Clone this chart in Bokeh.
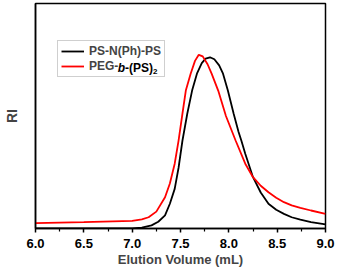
from bokeh.plotting import figure
from bokeh.models import Range1d, FixedTicker, Legend, LegendItem, Label
from bokeh.embed import file_html
from bokeh.resources import INLINE

# PS-N(Ph)-PS (black)
black_x = [6.0, 6.5, 7.0, 7.1, 7.2, 7.27, 7.34, 7.39, 7.44, 7.48, 7.52, 7.57, 7.62, 7.67,
           7.72, 7.76, 7.805, 7.85, 7.9, 7.94, 7.99, 8.05, 8.1, 8.13, 8.17, 8.25, 8.33,
           8.41, 8.49, 8.57, 8.65, 8.74, 8.85, 9.0]
black_y = [0.0, 0.0, 0.0, 0.004, 0.014, 0.03, 0.058, 0.11, 0.176, 0.27, 0.39, 0.51, 0.613, 0.688,
           0.735, 0.755, 0.761, 0.752, 0.725, 0.688, 0.613, 0.51, 0.43, 0.39, 0.332, 0.228, 0.16,
           0.11, 0.083, 0.065, 0.05, 0.039, 0.028, 0.018]

# PEG-b-(PS)2 (red)
red_x = [6.0, 6.5, 7.0, 7.1, 7.17, 7.25, 7.34, 7.39, 7.44, 7.48, 7.52, 7.555, 7.605, 7.65,
         7.689, 7.73, 7.78, 7.822, 7.89, 7.97, 8.07, 8.17, 8.25, 8.33, 8.41, 8.49, 8.57,
         8.65, 8.74, 8.85, 9.0]
red_y = [0.024, 0.028, 0.034, 0.041, 0.05, 0.075, 0.139, 0.2, 0.288, 0.391, 0.51, 0.613, 0.688, 0.745,
         0.772, 0.765, 0.73, 0.688, 0.613, 0.5, 0.391, 0.288, 0.228, 0.19, 0.161, 0.137, 0.117,
         0.103, 0.092, 0.08, 0.065]

x_ticks = [6.0, 6.5, 7.0, 7.5, 8.0, 8.5, 9.0]
x_tick_labels = ["6.0", "6.5", "7.0", "7.5", "8.0", "8.5", "9.0"]
x_minor_ticks = [6.25, 6.75, 7.25, 7.75, 8.25, 8.75]
series_names = ["PS-N(Ph)-PS", "PEG-"]
FONT = "Liberation Sans"

p = figure(width=336, height=271, output_backend="svg", toolbar_location=None,
           x_range=Range1d(6.0, 9.0), y_range=Range1d(0.0, 1.0),
           min_border_left=33, min_border_right=11, min_border_top=3, min_border_bottom=43)
p.grid.visible = False
p.outline_line_color = "black"
p.outline_line_width = 1.5
p.background_fill_color = "white"
p.border_fill_color = "white"

r1 = p.line(black_x, black_y, line_color="black", line_width=1.8)
r2 = p.line(red_x, red_y, line_color="#ff0000", line_width=1.8)

xa = p.xaxis[0]
xa.ticker = FixedTicker(ticks=x_ticks, minor_ticks=x_minor_ticks)
xa.major_label_overrides = {t: l for t, l in zip(x_ticks, x_tick_labels)}
xa.axis_line_width = 1.5
xa.major_tick_in = 0
xa.major_tick_out = 4
xa.minor_tick_in = 0
xa.minor_tick_out = 3
xa.major_tick_line_width = 1.5
xa.minor_tick_line_width = 1.2
xa.major_label_standoff = 6
xa.major_label_text_font = FONT
xa.major_label_text_font_style = "bold"
xa.major_label_text_font_size = "13px"
xa.major_label_text_color = "black"
xa.axis_label = "Elution Volume (mL)"
xa.axis_label_text_font = FONT
xa.axis_label_text_font_style = "bold"
xa.axis_label_text_font_size = "13px"
xa.axis_label_standoff = 1

ya = p.yaxis[0]
ya.ticker = FixedTicker(ticks=[])
ya.major_tick_line_color = None
ya.minor_tick_line_color = None
ya.major_label_text_font_size = "0px"
ya.axis_line_width = 1.5
ya.axis_label = "RI"
ya.axis_label_text_font = FONT
ya.axis_label_text_font_style = "bold"
ya.axis_label_text_font_size = "14px"
ya.axis_label_standoff = 16

LEG_X, LEG_Y = 22, 151
legend = Legend(items=[LegendItem(label=series_names[0], renderers=[r1]),
                       LegendItem(label=series_names[1], renderers=[r2])],
                location=(LEG_X, LEG_Y))
legend.label_text_font = FONT
legend.label_text_font_style = "bold"
legend.label_text_font_size = "12px"
legend.glyph_width = 23
legend.glyph_height = 14
legend.label_height = 14
legend.label_standoff = 5
legend.spacing = 1
legend.padding = 3
legend.margin = 0
legend.border_line_color = "#a0a0a0"
legend.border_line_width = 1
legend.background_fill_color = None
p.add_layout(legend)

row2_y = LEG_Y + 3 + 7
x0 = LEG_X + 3 + 23 + 5 + 29.3
for txt, dx, dy, size, style in [("b", 0, 0, "12px", "bold italic"),
                                  ("-(PS)", 7.3, 0, "12px", "bold"),
                                  ("2", 35.3, -4, "8px", "bold")]:
    p.add_layout(Label(x=x0 + dx, y=row2_y + dy, x_units="screen", y_units="screen",
                       text=txt, text_font=FONT, text_font_style=style,
                       text_font_size=size, text_baseline="middle", text_align="left",
                       text_color="black", level="overlay"))

open("out.html", "w").write(file_html(p, INLINE))
